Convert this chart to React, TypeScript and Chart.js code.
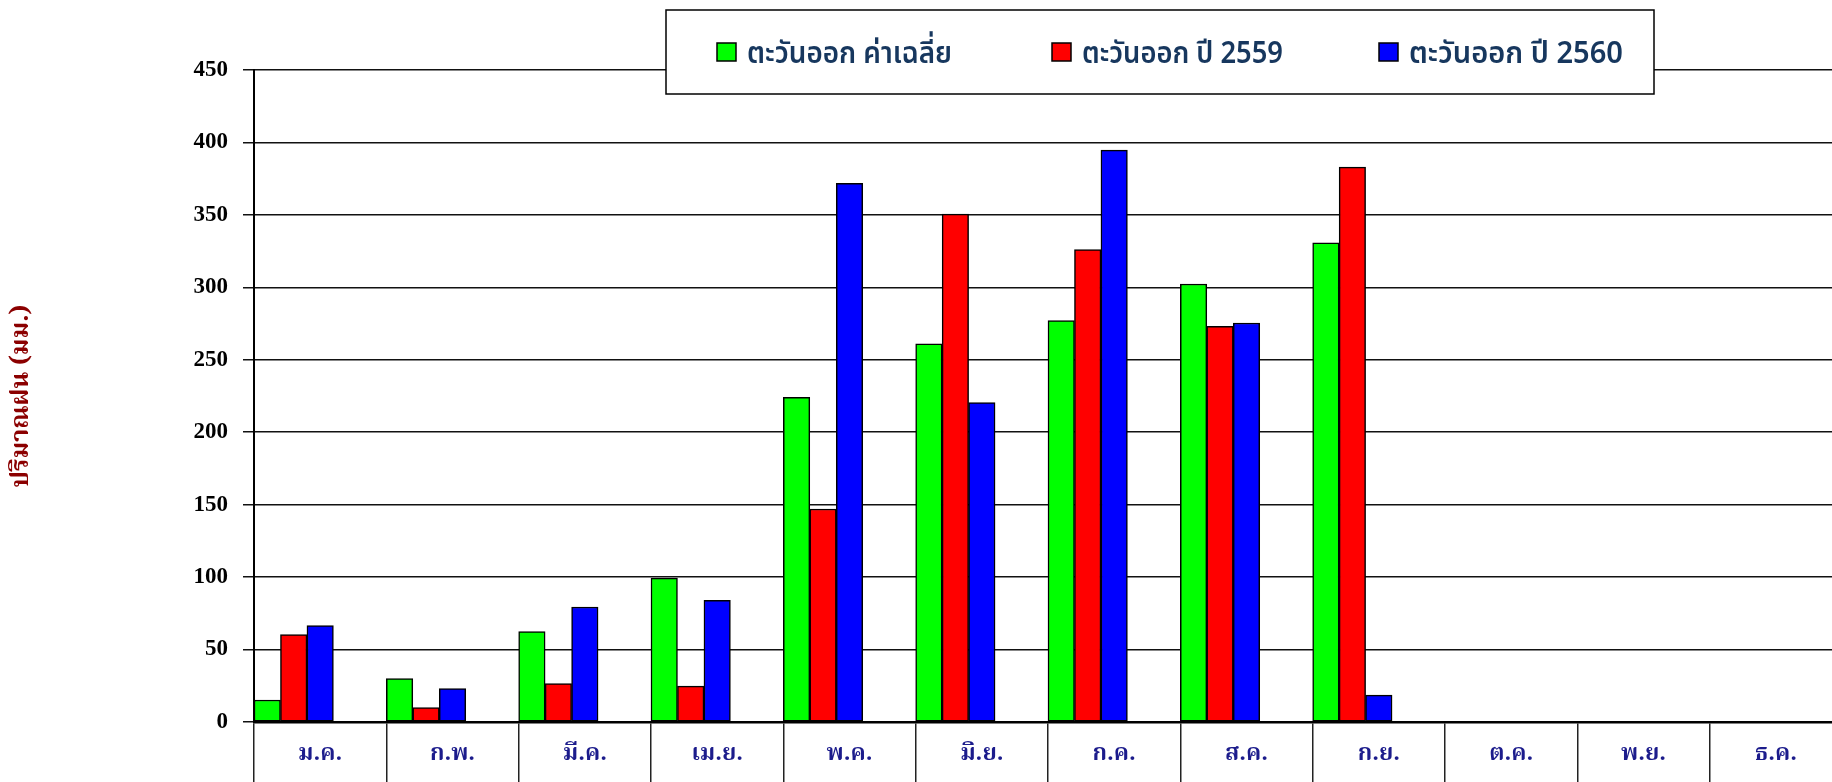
import React, { useEffect, useRef } from 'react';
import { Chart, registerables } from 'chart.js';

Chart.register(...registerables);

const months = ['ม.ค.', 'ก.พ.', 'มี.ค.', 'เม.ย.', 'พ.ค.', 'มิ.ย.', 'ก.ค.', 'ส.ค.', 'ก.ย.', 'ต.ค.', 'พ.ย.', 'ธ.ค.'];
const seriesLabels = ['ตะวันออก ค่าเฉลี่ย', 'ตะวันออก ปี 2559', 'ตะวันออก ปี 2560'];
const seriesColors = ['#00FF00', '#FF0000', '#0000FF'];
const avgValues = [15.2, 30, 62.4, 99.3, 224, 261, 277, 302.3, 330.8, null, null, null];
const values2559 = [60.4, 10, 26.6, 24.8, 147, 350.5, 326, 273, 383, null, null, null];
const values2560 = [66.5, 23, 79.4, 84, 371.7, 220.5, 394.7, 275.4, 18.5, null, null, null];
const yMin = 0;
const yMax = 450;
const yStep = 50;
const yTitle = 'ปริมาณฝน (มม.)';

const LOOPED_THAI = "'Noto Serif Thai', 'Noto Sans Thai Looped', 'Loma', 'Garuda', 'Tlwg Typo', serif";
const PLAIN_THAI = "'Noto Sans Thai', 'Noto Sans Thai UI', 'Noto Sans', sans-serif";

const legendBoxPlugin = {
  id: 'legendBox',
  afterDraw(chart: any) {
    const ctx = chart.ctx as CanvasRenderingContext2D;
    ctx.save();
    const bx = 666, by = 10, bw = 988, bh = 84;
    ctx.fillStyle = '#FFFFFF';
    ctx.fillRect(bx, by, bw, bh);
    ctx.strokeStyle = '#000000';
    ctx.lineWidth = 1.5;
    ctx.strokeRect(bx, by, bw, bh);
    const itemX = [717, 1052, 1379];
    const textW = [205, 201, 214];
    ctx.font = `600 31px ${PLAIN_THAI}`;
    ctx.textBaseline = 'middle';
    ctx.textAlign = 'left';
    for (let i = 0; i < 3; i++) {
      const ds = chart.data.datasets[i];
      ctx.fillStyle = ds.backgroundColor;
      ctx.fillRect(itemX[i], 43, 19, 18);
      ctx.lineWidth = 1.5;
      ctx.strokeStyle = '#000';
      ctx.strokeRect(itemX[i], 43, 19, 18);
      ctx.fillStyle = '#17375E';
      ctx.fillText(ds.label, itemX[i] + 30, 57, textW[i]);
    }
    ctx.restore();
  },
};

export default function App() {
  const canvasRef = useRef<HTMLCanvasElement | null>(null);

  useEffect(() => {
    const canvas = canvasRef.current;
    if (!canvas) return;
    const seriesData = [avgValues, values2559, values2560];
    const datasets: any[] = seriesData.map((d, i) => ({
      label: seriesLabels[i],
      data: d,
      backgroundColor: seriesColors[i],
      borderColor: '#000000',
      borderWidth: 1.5,
      borderSkipped: false,
      categoryPercentage: 1,
      barPercentage: 1,
    }));
    // two empty slots so each group fills the left part of its month
    datasets.push({ label: '', data: [], categoryPercentage: 1, barPercentage: 1 });
    datasets.push({ label: '', data: [], categoryPercentage: 1, barPercentage: 1 });

    const chart = new Chart(canvas, {
      type: 'bar',
      data: { labels: months, datasets },
      plugins: [legendBoxPlugin],
      options: {
        responsive: false,
        animation: false,
        devicePixelRatio: 1,
        layout: { padding: { top: 70, left: 0, right: 0, bottom: 0 } },
        plugins: {
          legend: { display: false },
          tooltip: { enabled: false },
          title: { display: false },
        },
        scales: {
          x: {
            offset: true,
            grid: {
              offset: true,
              drawOnChartArea: false,
              drawTicks: true,
              tickLength: 60,
              color: '#222222',
              lineWidth: 1.5,
            },
            border: { display: true, color: '#000000', width: 2.5 },
            ticks: {
              padding: -40,
              color: '#1C1C8C',
              font: { family: LOOPED_THAI, size: 23, weight: 'bold' },
              maxRotation: 0,
              autoSkip: false,
            },
            afterFit: (scale: any) => {
              scale.height = 60;
            },
          },
          y: {
            min: yMin,
            max: yMax,
            grid: {
              color: '#111111',
              lineWidth: 1.5,
              drawTicks: true,
              tickLength: 11,
            },
            border: { display: true, color: '#000000', width: 2 },
            ticks: {
              stepSize: yStep,
              padding: 15,
              color: '#000000',
              font: { family: "'Liberation Serif', 'Times New Roman', serif", size: 23, weight: 'bold' },
            },
            title: {
              display: true,
              text: yTitle,
              color: '#8B0000',
              padding: { top: 9, bottom: 0 },
              font: { family: LOOPED_THAI, size: 25, weight: 'bold' },
            },
            afterFit: (scale: any) => {
              scale.width = 254;
            },
          },
        },
      },
    });
    return () => chart.destroy();
  }, []);

  return (
    <div style={{ position: 'fixed', left: 0, top: 0, width: 1832, height: 782, overflow: 'hidden', background: '#fff' }}>
      <canvas ref={canvasRef} width={1842} height={782} style={{ display: 'block', width: 1842, height: 782 }} />
    </div>
  );
}
